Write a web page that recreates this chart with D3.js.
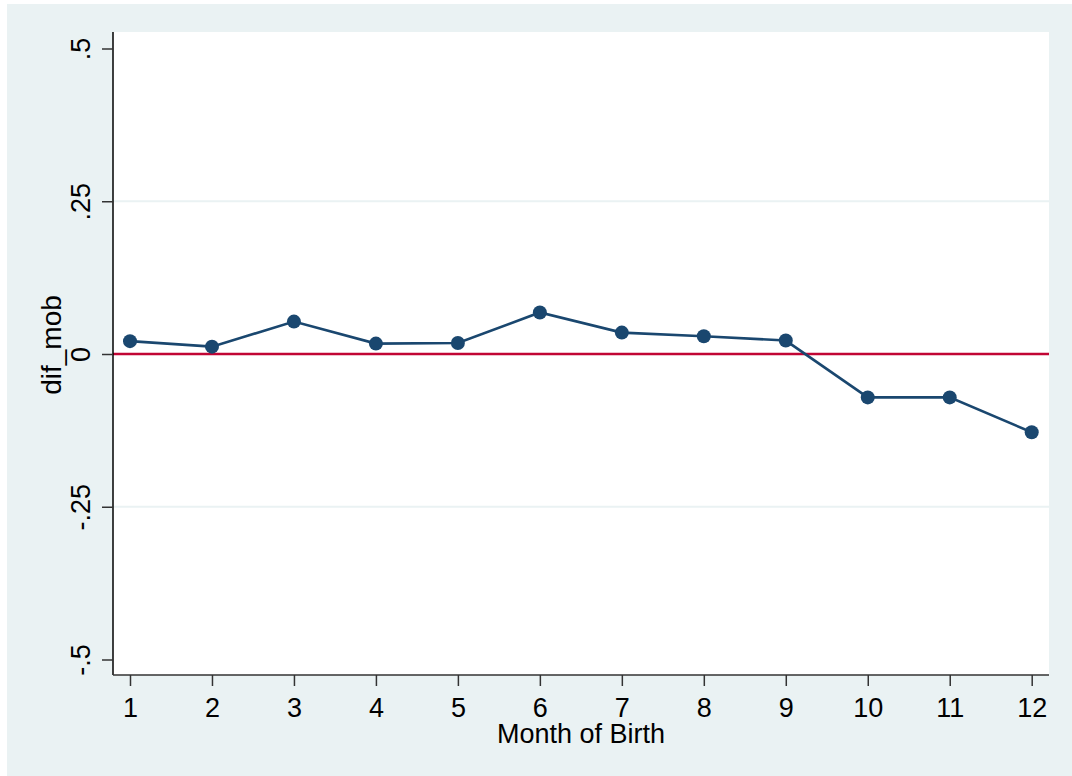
<!DOCTYPE html>
<html>
<head>
<meta charset="utf-8">
<script src="https://cdn.jsdelivr.net/npm/d3@7"></script>
<style>
  html, body { margin: 0; padding: 0; background: #ffffff; }
  svg { display: block; font-family: "Liberation Sans", Arial, sans-serif; }
</style>
</head>
<body>
<svg id="chart" width="1072" height="776"></svg>
<script>
const months = [1, 2, 3, 4, 5, 6, 7, 8, 9, 10, 11, 12];
const difMob = [0.021, 0.012, 0.053, 0.017, 0.018, 0.068, 0.035, 0.029, 0.022, -0.071, -0.071, -0.128];
const yTicks = [-0.5, -0.25, 0, 0.25, 0.5];
const yTickLabels = ["-.5", "-.25", "0", ".25", ".5"];
const xTicks = months;
const xTitle = "Month of Birth";
const yTitle = "dif_mob";
const refLine = 0;

const svg = d3.select("#chart");
const W = 1072, H = 776;
const plot = { left: 113, top: 32, right: 1049, bottom: 675 };

// background
svg.append("rect").attr("x", 7).attr("y", 4).attr("width", W - 7).attr("height", H - 4).attr("fill", "#eaf2f3");
svg.append("rect").attr("x", plot.left).attr("y", plot.top)
  .attr("width", plot.right - plot.left).attr("height", plot.bottom - plot.top).attr("fill", "#ffffff");

const x = d3.scaleLinear().domain([1, 12]).range([130, 1031.7]);
const y = d3.scaleLinear().domain([-0.5, 0.5]).range([659.5, 48.5]);

// gridlines (interior labels only)
svg.append("g").selectAll("line").data(yTicks.filter(t => t !== 0.5 && t !== -0.5 && t !== 0))
  .join("line")
  .attr("x1", plot.left).attr("x2", plot.right)
  .attr("y1", d => y(d)).attr("y2", d => y(d))
  .attr("stroke", "#eaf2f3").attr("stroke-width", 2);

// reference line
svg.append("line")
  .attr("x1", plot.left).attr("x2", plot.right)
  .attr("y1", y(refLine)).attr("y2", y(refLine))
  .attr("stroke", "#c10534").attr("stroke-width", 2.5);

// y axis
const yAxis = d3.axisLeft(y).tickValues(yTicks).tickSize(11)
  .tickFormat((d, i) => yTickLabels[i]);
const gy = svg.append("g").attr("transform", `translate(${plot.left},0)`).call(yAxis);
gy.select(".domain").attr("d", `M0,${plot.top}V${plot.bottom}`).attr("stroke", "#000").attr("stroke-width", 1.5);
gy.selectAll(".tick line").attr("stroke", "#333").attr("stroke-width", 1.5);
gy.selectAll(".tick text")
  .attr("x", null).attr("dy", null)
  .attr("transform", "translate(-23,0) rotate(-90)")
  .attr("text-anchor", "middle")
  .attr("fill", "#000")
  .style("font-size", "27px")
  .style("font-family", "'Liberation Sans', Arial, sans-serif");

// x axis
const xAxis = d3.axisBottom(x).tickValues(xTicks).tickSize(11).tickFormat(d3.format("d"));
const gx = svg.append("g").attr("transform", `translate(0,${plot.bottom})`).call(xAxis);
gx.select(".domain").attr("d", `M${plot.left},0H${plot.right}`).attr("stroke", "#333").attr("stroke-width", 1.5);
gx.selectAll(".tick line").attr("stroke", "#333").attr("stroke-width", 1.5);
gx.selectAll(".tick text")
  .attr("y", 42).attr("dy", null)
  .attr("fill", "#000")
  .style("font-size", "27px")
  .style("font-family", "'Liberation Sans', Arial, sans-serif");

// titles
svg.append("text").attr("x", (plot.left + plot.right) / 2).attr("y", 743)
  .attr("text-anchor", "middle").attr("fill", "#000")
  .style("font-size", "27px").text(xTitle);
svg.append("text")
  .attr("transform", `translate(61,345) rotate(-90)`)
  .attr("text-anchor", "middle").attr("fill", "#000")
  .style("font-size", "28px").text(yTitle);

// series
const data = months.map((m, i) => ({ m, v: difMob[i] }));
svg.append("path").datum(data)
  .attr("fill", "none").attr("stroke", "#1a476f").attr("stroke-width", 2.6)
  .attr("d", d3.line().x(d => x(d.m)).y(d => y(d.v)));
svg.append("g").selectAll("circle").data(data).join("circle")
  .attr("cx", d => x(d.m)).attr("cy", d => y(d.v)).attr("r", 7)
  .attr("fill", "#1a476f");
</script>
</body>
</html>
